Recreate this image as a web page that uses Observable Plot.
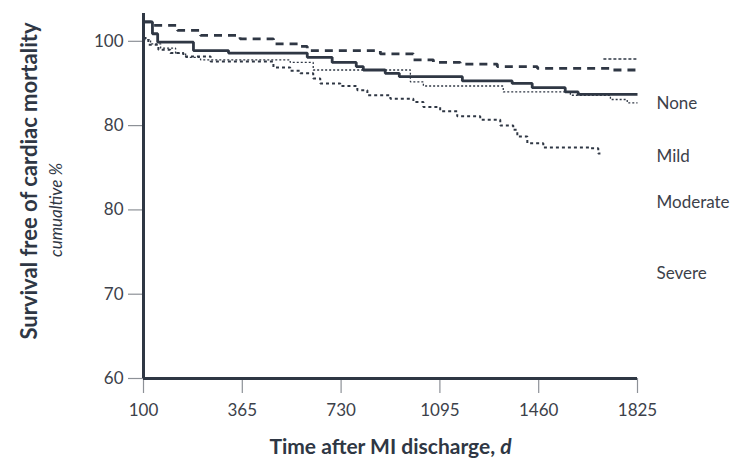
<!DOCTYPE html>
<html><head><meta charset="utf-8">
<script src="https://cdn.jsdelivr.net/npm/d3@7"></script>
<script src="https://cdn.jsdelivr.net/npm/@observablehq/plot@0.6"></script>
<style>body{margin:0;background:#fff} #chart svg{display:block}</style>
</head><body><div id="chart"></div>
<script>
// x tick values (days) and y tick values / labels (as printed in the original)
const xTicks = [100, 365, 730, 1095, 1460, 1825];
const yTicks = [60, 70, 80, 90, 100];
const yTickLabels = ["60", "70", "80", "80", "100"];

// None (thick dashed)
const noneDays = [100,124,191,253,359,480,579,605,875,997,1071,1170,1307,1455,1725,1825];
const noneSurv = [102.3,101.9,101.3,100.7,100.3,99.7,99.4,98.9,98.5,97.8,97.5,97.3,97.0,96.8,96.6,96.6];

// Mild (solid)
const mildDays = [100,124,138,234,328,605,697,786,812,893,945,1178,1362,1436,1558,1606,1825];
const mildSurv = [102.3,100.9,99.9,98.9,98.6,98.1,97.5,97.0,96.6,96.2,95.8,95.3,95.0,94.5,94.0,93.7,93.7];

// Moderate (fine dotted)
const modDays = [100,119,146,186,213,253,542,627,986,1034,1329,1577,1725,1787,1825];
const modSurv = [100.2,99.7,99.2,98.6,98.1,97.8,97.5,96.6,95.2,94.7,94.0,93.6,93.1,92.7,92.7];

// short fine dotted segment at top right
const tailDays = [1699, 1825];
const tailSurv = [97.9, 97.9];

// Severe (medium dotted)
const sevDays = [100,113,140,172,207,280,480,542,579,627,653,727,790,827,912,997,1034,1096,1159,1244,1318,1366,1381,1418,1477,1651,1680,1688];
const sevSurv = [100.4,99.6,99.0,98.6,98.2,97.6,96.9,96.5,96.2,95.6,95.0,94.7,94.2,93.6,93.2,92.8,92.2,91.7,91.1,90.7,90.0,89.5,88.7,87.9,87.4,87.3,86.7,86.7];

// right-hand labels
const seriesNames = ["None", "Mild", "Moderate", "Severe"];
const seriesLabelY = [92.6, 86.3, 80.9, 72.5];

const yTitle = "Survival free of cardiac mortality";
const ySubtitle = "cumualtive %";
const xTitle = "Time after MI discharge, d";

const W = 738, H = 468;
const mL = 143, mR = 101, mT = 13, mB = 90;
const ink = "#2f3744", textC = "#3c414a", tickC = "#8d9197";

// the time axis has evenly spaced ticks: piecewise-linear mapping day -> tick index
const dayToIndex = d3.scaleLinear().domain(xTicks).range(xTicks.map((d, i) => i));

const lineStyle = {curve: "step-after", stroke: ink, strokeLinejoin: "miter", strokeLinecap: "butt"};

const chart = Plot.plot({
  width: W, height: H,
  marginLeft: mL, marginRight: mR, marginTop: mT, marginBottom: mB,
  style: {fontFamily: "Lato, sans-serif", fontSize: "17px", color: textC, background: "#fff"},
  x: {transform: dayToIndex},
  y: {domain: [60, 103.3]},
  marks: [
    Plot.axisY({ticks: yTicks, tickFormat: d => yTickLabels[yTicks.indexOf(d)], tickSize: 15, tickPadding: 5, stroke: tickC, strokeWidth: 1.2, label: null}),
    Plot.axisX(xTicks, {tickFormat: d => String(d), tickSize: 15, tickPadding: 10, stroke: tickC, strokeWidth: 1.2, label: null}),
    Plot.line(modDays, {x: modDays, y: modSurv, ...lineStyle, strokeWidth: 1.3, strokeDasharray: "2,2"}),
    Plot.line(tailDays, {x: tailDays, y: tailSurv, ...lineStyle, strokeWidth: 1.3, strokeDasharray: "3,2"}),
    Plot.line(sevDays, {x: sevDays, y: sevSurv, ...lineStyle, strokeWidth: 2, strokeDasharray: "3,3"}),
    Plot.line(noneDays, {x: noneDays, y: noneSurv, ...lineStyle, strokeWidth: 2.8, strokeDasharray: "8,6"}),
    Plot.line(mildDays, {x: mildDays, y: mildSurv, ...lineStyle, strokeWidth: 2.8}),
    Plot.ruleX([100], {stroke: ink, strokeWidth: 3}),
    Plot.ruleY([60], {stroke: ink, strokeWidth: 3}),
    Plot.text(seriesNames, {x: () => 1825, y: (d, i) => seriesLabelY[i], text: d => d, dx: 19, textAnchor: "start", fill: textC, fontSize: 17}),
    Plot.text([yTitle], {frameAnchor: "left", textAnchor: "middle", rotate: -90, dx: -114, dy: -15, fontWeight: "bold", fontSize: 22, fill: ink}),
    Plot.text([ySubtitle], {frameAnchor: "left", textAnchor: "middle", rotate: -90, dx: -87, dy: 14, fontStyle: "italic", fontSize: 17, fill: ink}),
    Plot.text([xTitle], {frameAnchor: "bottom", dy: 75, fontWeight: "bold", fontSize: 21, fill: ink})
  ]
});
document.getElementById("chart").appendChild(chart);

// italicise the trailing "d" of the x title
d3.select(chart).selectAll("text").filter(function() { return this.textContent === xTitle; })
  .each(function() {
    const t = d3.select(this);
    t.text("");
    t.append("tspan").text("Time after MI discharge, ");
    t.append("tspan").attr("font-style", "italic").text("d");
  });
</script></body></html>
